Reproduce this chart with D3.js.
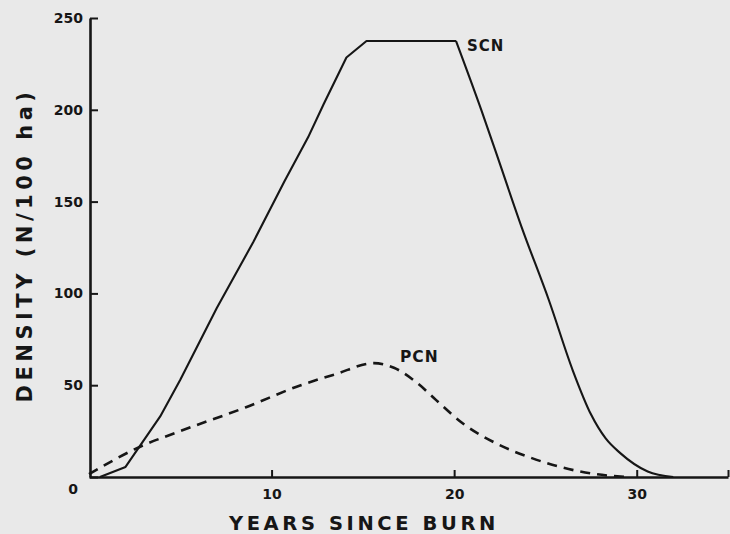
<!DOCTYPE html>
<html>
<head>
<meta charset="utf-8">
<script src="https://cdn.jsdelivr.net/npm/d3@7"></script>
<style>
  html, body { margin: 0; padding: 0; background: #e9e9e9; }
  svg { display: block; }
  text { font-family: "DejaVu Sans", sans-serif; font-weight: bold; fill: #161616; }
</style>
</head>
<body>
<svg id="chart" width="730" height="534"></svg>
<script>
// Years since burn (x) and density, N per 100 ha (y)
const scnYears   = [0.6, 2.0, 3.9, 5.0, 7.0, 9.0, 10.7, 12.0, 12.85, 14.1, 15.2, 20.1,
                    21.5, 22.25, 23.7, 25.2, 26.5, 27.5, 28.3, 29.1, 30.6, 32.0];
const scnDensity = [0, 5.5, 33, 53, 92, 128, 161, 185, 203, 228.5, 237.5, 237.5,
                    199.5, 178, 136, 96, 58, 34, 21, 13, 3, 0];
// index where the plateau ends and the smooth decline begins
const scnPeakEnd = 11;

const pcnYears   = [0, 2.8, 5.0, 8.6, 11.6, 13.5, 15.6, 16.7, 18.0, 19.0, 20.5, 22.3, 24.2, 26.0, 27.8, 29.5];
const pcnDensity = [1.5, 16.5, 25, 38, 50, 56, 62, 59.5, 51, 42, 29, 18.3, 10.5, 5, 1.5, 0];

const xTicks = [10, 20, 30, 35];
const yTicks = [0, 50, 100, 150, 200, 250];

const seriesLabels = [
  { name: "SCN", x: 467, y: 51, size: 15 },
  { name: "PCN", x: 400, y: 362, size: 15.5 }
];

const svg = d3.select("#chart");

const x = d3.scaleLinear().domain([0, 35]).range([89, 728]);
const y = d3.scaleLinear().domain([0, 250]).range([477, 18]);

const ink = "#161616";

// x axis
const gx = svg.append("g")
  .attr("transform", `translate(0,${y(0)})`)
  .call(d3.axisBottom(x)
    .tickValues(xTicks)
    .tickFormat(d => d === 35 ? "" : d)
    .tickSizeInner(-7)
    .tickSizeOuter(0)
    .tickPadding(12));

// y axis
const gy = svg.append("g")
  .attr("transform", `translate(${x(0) + 1},0)`)
  .call(d3.axisLeft(y)
    .tickValues(yTicks)
    .tickSizeInner(-8)
    .tickSizeOuter(0)
    .tickPadding(7));

[gx, gy].forEach(g => {
  g.select(".domain").attr("stroke", ink).attr("stroke-width", 2.6);
  g.selectAll(".tick line").attr("stroke", ink).attr("stroke-width", 2);
  g.selectAll(".tick text")
    .attr("fill", ink)
    .style("font-family", "'DejaVu Sans', sans-serif")
    .style("font-weight", "bold")
    .style("font-size", "14px");
});

// the origin label sits below the corner
gy.selectAll(".tick").filter(d => d === 0).select("text")
  .attr("x", -12)
  .attr("dy", "1.2em");

// curves
const lineLinear = d3.line().x(d => x(d[0])).y(d => y(d[1])).curve(d3.curveLinear);
const lineSmooth = d3.line().x(d => x(d[0])).y(d => y(d[1])).curve(d3.curveMonotoneX);

const scn = scnYears.map((v, i) => [v, scnDensity[i]]);
const pcn = pcnYears.map((v, i) => [v, pcnDensity[i]]);

svg.append("path")
  .attr("d", lineLinear(scn.slice(0, scnPeakEnd + 1)))
  .attr("fill", "none").attr("stroke", ink).attr("stroke-width", 2.1)
  .attr("stroke-linejoin", "round");

svg.append("path")
  .attr("d", lineSmooth(scn.slice(scnPeakEnd)))
  .attr("fill", "none").attr("stroke", ink).attr("stroke-width", 2.1);

svg.append("path")
  .attr("d", lineSmooth(pcn))
  .attr("fill", "none").attr("stroke", ink).attr("stroke-width", 2.6)
  .attr("stroke-dasharray", "10,7");

// series labels
svg.selectAll(".series-label")
  .data(seriesLabels)
  .enter().append("text")
  .attr("class", "series-label")
  .attr("x", d => d.x)
  .attr("y", d => d.y)
  .style("font-size", d => d.size + "px")
  .style("letter-spacing", "1px")
  .text(d => d.name);

// axis titles
svg.append("text")
  .attr("x", 364)
  .attr("y", 530)
  .attr("text-anchor", "middle")
  .style("font-size", "19.5px")
  .style("letter-spacing", "3.6px")
  .text("YEARS SINCE BURN");

svg.append("text")
  .attr("transform", "translate(32,245) rotate(-90)")
  .attr("text-anchor", "middle")
  .style("font-size", "21px")
  .style("letter-spacing", "4.5px")
  .text("DENSITY (N/100 ha)");
</script>
</body>
</html>
